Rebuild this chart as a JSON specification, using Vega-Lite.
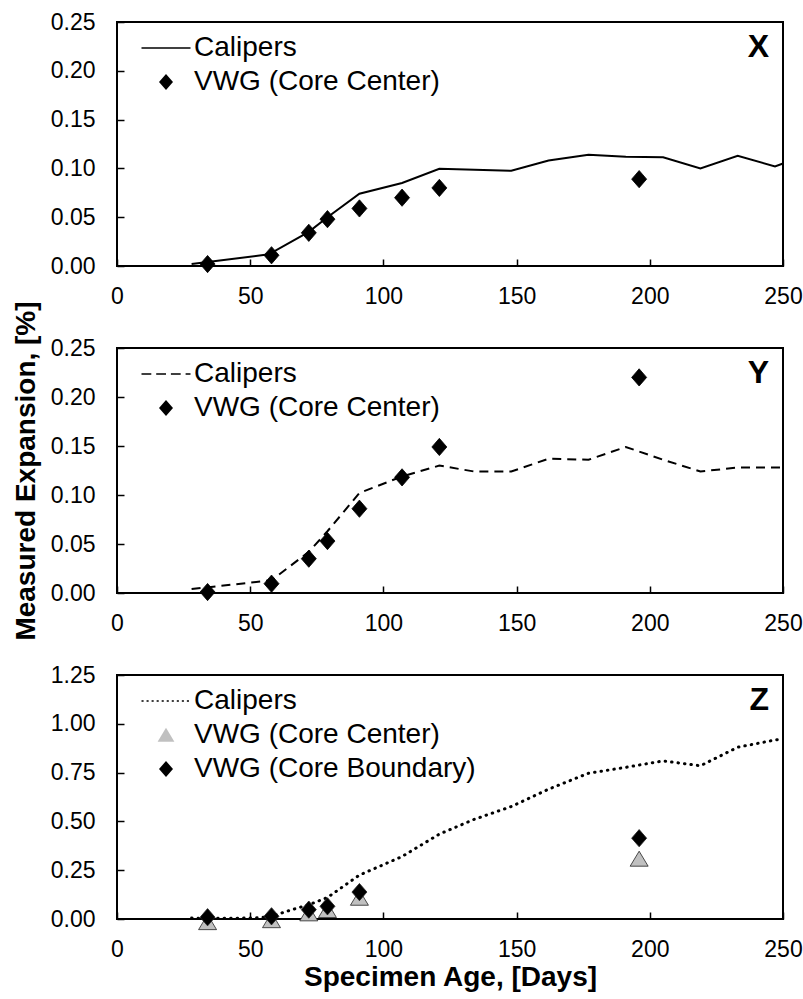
{
  "$schema": "https://vega.github.io/schema/vega-lite/v6.json",
  "background": "white",
  "padding": {"left": 11, "top": 10, "right": 5, "bottom": 5},
  "bounds": "flush",
  "spacing": 82,
  "datasets": {
    "X": [
      {"series": "Calipers", "day": 28, "value": 0.002},
      {"series": "Calipers", "day": 57, "value": 0.012},
      {"series": "Calipers", "day": 72, "value": 0.035},
      {"series": "Calipers", "day": 79, "value": 0.050},
      {"series": "Calipers", "day": 91, "value": 0.074},
      {"series": "Calipers", "day": 107, "value": 0.085},
      {"series": "Calipers", "day": 121, "value": 0.0997},
      {"series": "Calipers", "day": 148, "value": 0.0976},
      {"series": "Calipers", "day": 162, "value": 0.108},
      {"series": "Calipers", "day": 177, "value": 0.114},
      {"series": "Calipers", "day": 191, "value": 0.112},
      {"series": "Calipers", "day": 205, "value": 0.1115},
      {"series": "Calipers", "day": 219, "value": 0.100},
      {"series": "Calipers", "day": 233, "value": 0.113},
      {"series": "Calipers", "day": 247, "value": 0.102},
      {"series": "Calipers", "day": 250, "value": 0.105},
      {"series": "VWG (Core Center)", "day": 34, "value": 0.002},
      {"series": "VWG (Core Center)", "day": 58, "value": 0.011},
      {"series": "VWG (Core Center)", "day": 72, "value": 0.034},
      {"series": "VWG (Core Center)", "day": 79, "value": 0.048},
      {"series": "VWG (Core Center)", "day": 91, "value": 0.059},
      {"series": "VWG (Core Center)", "day": 107, "value": 0.070},
      {"series": "VWG (Core Center)", "day": 121, "value": 0.080},
      {"series": "VWG (Core Center)", "day": 196, "value": 0.089}
    ],
    "Y": [
      {"series": "Calipers", "day": 28, "value": 0.004},
      {"series": "Calipers", "day": 58, "value": 0.013},
      {"series": "Calipers", "day": 72, "value": 0.042},
      {"series": "Calipers", "day": 79, "value": 0.063},
      {"series": "Calipers", "day": 91, "value": 0.102},
      {"series": "Calipers", "day": 107, "value": 0.119},
      {"series": "Calipers", "day": 121, "value": 0.130},
      {"series": "Calipers", "day": 134, "value": 0.124},
      {"series": "Calipers", "day": 148, "value": 0.124},
      {"series": "Calipers", "day": 162, "value": 0.137},
      {"series": "Calipers", "day": 177, "value": 0.136},
      {"series": "Calipers", "day": 191, "value": 0.149},
      {"series": "Calipers", "day": 205, "value": 0.136},
      {"series": "Calipers", "day": 219, "value": 0.124},
      {"series": "Calipers", "day": 233, "value": 0.128},
      {"series": "Calipers", "day": 250, "value": 0.128},
      {"series": "VWG (Core Center)", "day": 34, "value": 0.001},
      {"series": "VWG (Core Center)", "day": 58, "value": 0.0095},
      {"series": "VWG (Core Center)", "day": 72, "value": 0.035},
      {"series": "VWG (Core Center)", "day": 79, "value": 0.053},
      {"series": "VWG (Core Center)", "day": 91, "value": 0.086},
      {"series": "VWG (Core Center)", "day": 107, "value": 0.118},
      {"series": "VWG (Core Center)", "day": 121, "value": 0.149},
      {"series": "VWG (Core Center)", "day": 196, "value": 0.220}
    ],
    "Z": [
      {"series": "Calipers", "day": 28, "value": 0.005},
      {"series": "Calipers", "day": 35, "value": 0.003},
      {"series": "Calipers", "day": 45, "value": 0.004},
      {"series": "Calipers", "day": 53, "value": 0.006},
      {"series": "Calipers", "day": 58, "value": 0.014},
      {"series": "Calipers", "day": 65, "value": 0.045},
      {"series": "Calipers", "day": 72, "value": 0.073},
      {"series": "Calipers", "day": 79, "value": 0.11},
      {"series": "Calipers", "day": 91, "value": 0.225},
      {"series": "Calipers", "day": 107, "value": 0.32},
      {"series": "Calipers", "day": 121, "value": 0.435},
      {"series": "Calipers", "day": 134, "value": 0.51},
      {"series": "Calipers", "day": 148, "value": 0.576},
      {"series": "Calipers", "day": 162, "value": 0.665},
      {"series": "Calipers", "day": 177, "value": 0.747},
      {"series": "Calipers", "day": 191, "value": 0.777},
      {"series": "Calipers", "day": 205, "value": 0.81},
      {"series": "Calipers", "day": 219, "value": 0.785},
      {"series": "Calipers", "day": 233, "value": 0.88},
      {"series": "Calipers", "day": 247, "value": 0.917},
      {"series": "Calipers", "day": 250, "value": 0.923},
      {"series": "VWG (Core Center)", "day": 34, "value": -0.018},
      {"series": "VWG (Core Center)", "day": 58, "value": -0.008},
      {"series": "VWG (Core Center)", "day": 72, "value": 0.027},
      {"series": "VWG (Core Center)", "day": 79, "value": 0.044},
      {"series": "VWG (Core Center)", "day": 91, "value": 0.107},
      {"series": "VWG (Core Center)", "day": 196, "value": 0.307},
      {"series": "VWG (Core Boundary)", "day": 34, "value": 0.009},
      {"series": "VWG (Core Boundary)", "day": 58, "value": 0.014},
      {"series": "VWG (Core Boundary)", "day": 72, "value": 0.048},
      {"series": "VWG (Core Boundary)", "day": 79, "value": 0.065},
      {"series": "VWG (Core Boundary)", "day": 91, "value": 0.138},
      {"series": "VWG (Core Boundary)", "day": 196, "value": 0.414}
    ]
  },
  "vconcat": [
    {
      "width": 666,
      "height": 244,
      "data": {"name": "X"},
      "encoding": {
        "x": {"field": "day", "type": "quantitative", "scale": {"domain": [0, 250], "nice": false, "zero": false}, "axis": {"values": [0, 50, 100, 150, 200, 250], "title": null}},
        "y": {"field": "value", "type": "quantitative", "scale": {"domain": [0, 0.25], "nice": false}, "axis": {"values": [0, 0.05, 0.1, 0.15, 0.2, 0.25], "format": ".2f", "title": null}}
      },
      "layer": [
        {
          "transform": [{"filter": "datum.series === 'Calipers'"}],
          "mark": {"type": "line", "color": "black", "strokeWidth": 2},
          "encoding": {}
        },
        {
          "transform": [{"filter": "datum.series !== 'Calipers'"}],
          "mark": {"type": "point", "filled": true, "size": 225, "opacity": 1, "stroke": "black", "strokeWidth": 0.8},
          "encoding": {
            "shape": {"field": "series", "type": "nominal", "scale": {"domain": ["Calipers", "VWG (Core Center)"], "range": ["M-3.5,-0.11L3.5,-0.11L3.5,0.11L-3.5,0.11Z", "M-1,0L0,-1.15L1,0L0,1.15Z"]}, "legend": {"title": null}},
            "fill": {"field": "series", "type": "nominal", "scale": {"domain": ["Calipers", "VWG (Core Center)"], "range": ["black", "black"]}, "legend": {"title": null}}
          }
        },
        {
          "data": {"values": [{"label": "X", "day": 250, "value": 0.25}]},
          "mark": {"type": "text", "align": "right", "baseline": "top", "dx": -14, "dy": 10, "fontSize": 32, "fontWeight": "bold", "color": "black"},
          "encoding": {"text": {"field": "label"}}
        }
      ]
    },
    {
      "width": 666,
      "height": 245,
      "data": {"name": "Y"},
      "encoding": {
        "x": {"field": "day", "type": "quantitative", "scale": {"domain": [0, 250], "nice": false, "zero": false}, "axis": {"values": [0, 50, 100, 150, 200, 250], "title": null}},
        "y": {"field": "value", "type": "quantitative", "scale": {"domain": [0, 0.25], "nice": false}, "axis": {"values": [0, 0.05, 0.1, 0.15, 0.2, 0.25], "format": ".2f", "title": "Measured Expansion, [%]"}}
      },
      "layer": [
        {
          "transform": [{"filter": "datum.series === 'Calipers'"}],
          "mark": {"type": "line", "color": "black", "strokeWidth": 2, "strokeDash": [9, 6]},
          "encoding": {}
        },
        {
          "transform": [{"filter": "datum.series !== 'Calipers'"}],
          "mark": {"type": "point", "filled": true, "size": 225, "opacity": 1, "stroke": "black", "strokeWidth": 0.8},
          "encoding": {
            "shape": {"field": "series", "type": "nominal", "scale": {"domain": ["Calipers", "VWG (Core Center)"], "range": ["M-3.5,-0.11H-2.1V0.11H-3.5Z M-1.4,-0.11H0V0.11H-1.4Z M0.7,-0.11H2.1V0.11H0.7Z M2.8,-0.11H3.5V0.11H2.8Z", "M-1,0L0,-1.15L1,0L0,1.15Z"]}, "legend": {"title": null}},
            "fill": {"field": "series", "type": "nominal", "scale": {"domain": ["Calipers", "VWG (Core Center)"], "range": ["black", "black"]}, "legend": {"title": null}}
          }
        },
        {
          "data": {"values": [{"label": "Y", "day": 250, "value": 0.25}]},
          "mark": {"type": "text", "align": "right", "baseline": "top", "dx": -14, "dy": 10, "fontSize": 32, "fontWeight": "bold", "color": "black"},
          "encoding": {"text": {"field": "label"}}
        }
      ]
    },
    {
      "width": 666,
      "height": 244,
      "data": {"name": "Z"},
      "encoding": {
        "x": {"field": "day", "type": "quantitative", "scale": {"domain": [0, 250], "nice": false, "zero": false}, "axis": {"values": [0, 50, 100, 150, 200, 250], "title": "Specimen Age, [Days]"}},
        "y": {"field": "value", "type": "quantitative", "scale": {"domain": [0, 1.25], "nice": false}, "axis": {"values": [0, 0.25, 0.5, 0.75, 1, 1.25], "format": ".2f", "title": null}}
      },
      "layer": [
        {
          "transform": [{"filter": "datum.series === 'Calipers'"}],
          "mark": {"type": "line", "color": "black", "strokeWidth": 3, "strokeDash": [0.5, 6], "strokeCap": "round"},
          "encoding": {}
        },
        {
          "transform": [{"filter": "datum.series !== 'Calipers'"}],
          "mark": {"type": "point", "filled": true, "size": 225, "opacity": 1, "stroke": "#222222", "strokeWidth": 0.8},
          "encoding": {
            "shape": {"field": "series", "type": "nominal", "scale": {"domain": ["Calipers", "VWG (Core Center)", "VWG (Core Boundary)"], "range": ["M-3.5,-0.12H-3.2V0.12H-3.5Z M-2.78,-0.12H-2.48V0.12H-2.78Z M-2.06,-0.12H-1.76V0.12H-2.06Z M-1.34,-0.12H-1.04V0.12H-1.34Z M-0.62,-0.12H-0.32V0.12H-0.62Z M0.1,-0.12H0.4V0.12H0.1Z M0.82,-0.12H1.12V0.12H0.82Z M1.54,-0.12H1.84V0.12H1.54Z M2.26,-0.12H2.56V0.12H2.26Z M2.98,-0.12H3.28V0.12H2.98Z", "M0,-1.05L1.2,0.95L-1.2,0.95Z", "M-1,0L0,-1.15L1,0L0,1.15Z"]}, "legend": {"title": null}},
            "fill": {"field": "series", "type": "nominal", "scale": {"domain": ["Calipers", "VWG (Core Center)", "VWG (Core Boundary)"], "range": ["black", "#c0c0c0", "black"]}, "legend": {"title": null}}
          }
        },
        {
          "data": {"values": [{"label": "Z", "day": 250, "value": 1.25}]},
          "mark": {"type": "text", "align": "right", "baseline": "top", "dx": -14, "dy": 10, "fontSize": 32, "fontWeight": "bold", "color": "black"},
          "encoding": {"text": {"field": "label"}}
        }
      ]
    }
  ],
  "resolve": {"scale": {"shape": "independent", "fill": "independent"}, "legend": {"shape": "independent", "fill": "independent"}},
  "config": {
    "font": "Liberation Sans",
    "view": {"stroke": "black", "strokeWidth": 2},
    "axis": {
      "domain": false,
      "grid": false,
      "ticks": true,
      "tickColor": "black",
      "tickWidth": 1.5,
      "tickSize": -7,
      "labelFont": "Liberation Sans",
      "labelFontSize": 23,
      "labelColor": "black",
      "labelFlush": false,
      "labelOverlap": false,
      "titleFont": "Liberation Sans",
      "titleFontSize": 28,
      "titleFontWeight": "bold",
      "titleColor": "black"
    },
    "axisX": {"labelPadding": 26, "titlePadding": 2},
    "axisY": {"labelPadding": 29, "titlePadding": 10},
    "legend": {
      "orient": "top-left",
      "offset": 12,
      "padding": 0,
      "labelFont": "Liberation Sans",
      "labelFontSize": 28,
      "labelColor": "black",
      "labelLimit": 0,
      "symbolSize": 196,
      "symbolStrokeColor": "#222222",
      "symbolStrokeWidth": 0.8,
      "rowPadding": 6,
      "symbolOffset": 23,
      "labelOffset": 14
    }
  }
}
